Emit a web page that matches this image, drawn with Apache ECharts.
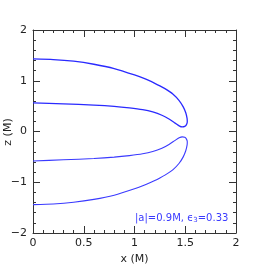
<!DOCTYPE html>
<html><head><meta charset="utf-8">
<script src="https://cdn.jsdelivr.net/npm/echarts@6/dist/echarts.min.js"></script>
<style>html,body{margin:0;padding:0;background:#fff}#c{width:266px;height:266px}</style>
</head><body><div id="c"></div>
<script>
// upper curve: outer edge -> tip -> inner edge
const upperX = [0, 0.2, 0.4, 0.6, 0.8, 1.0, 1.1, 1.2, 1.25, 1.3, 1.38, 1.44, 1.48, 1.505, 1.518, 1.52, 1.512, 1.495, 1.47, 1.44, 1.40, 1.34, 1.27, 1.18, 1.08, 0.95, 0.8, 0.6, 0.3, 0];
const upperZ = [1.43, 1.418, 1.385, 1.325, 1.241, 1.115, 1.04, 0.95, 0.90, 0.845, 0.735, 0.61, 0.485, 0.37, 0.26, 0.19, 0.135, 0.10, 0.09, 0.112, 0.165, 0.245, 0.32, 0.385, 0.43, 0.465, 0.495, 0.52, 0.545, 0.565];
// lower curve: inner edge -> tip -> outer edge
const lowerX = [0, 0.3, 0.6, 0.8, 0.95, 1.08, 1.18, 1.27, 1.34, 1.40, 1.44, 1.47, 1.495, 1.512, 1.52, 1.518, 1.505, 1.48, 1.44, 1.38, 1.3, 1.25, 1.2, 1.1, 1.0, 0.8, 0.6, 0.4, 0.2, 0];
const lowerZ = [-0.58, -0.558, -0.532, -0.505, -0.475, -0.44, -0.395, -0.33, -0.255, -0.175, -0.125, -0.105, -0.115, -0.15, -0.2, -0.27, -0.38, -0.5, -0.625, -0.75, -0.86, -0.915, -0.965, -1.055, -1.13, -1.255, -1.338, -1.395, -1.428, -1.44];
const xTicks = [0, 0.5, 1, 1.5, 2];
const zTicks = [-2, -1, 0, 1, 2];
const xName = 'x (M)';
const zName = 'z (M)';
const label = '|a|=0.9M, ϵ';
const labelSub = '3';
const labelTail = '=0.33';

const pair = (xs, zs) => xs.map((v, i) => [v, zs[i]]);
const font = 'DejaVu Sans';
const axisCommon = {
  type: 'value',
  axisLine: {show: true, onZero: false, lineStyle: {color: '#333', width: 1}},
  axisTick: {show: true, inside: true, length: 7, lineStyle: {color: '#333'}},
  minorTick: {show: true, splitNumber: 5, length: 3, lineStyle: {color: '#333'}},
  splitLine: {show: false},
};
const chart = echarts.init(document.getElementById('c'));
chart.setOption({
  animation: false,
  grid: {left: 33, right: 30, top: 30, bottom: 33, outerBoundsMode: 'none', containLabel: false},
  xAxis: [
    Object.assign({}, axisCommon, {min: 0, max: 2, interval: 0.5, position: 'bottom',
      name: xName, nameLocation: 'middle', nameGap: 19,
      nameTextStyle: {fontFamily: font, fontSize: 11, color: '#222'},
      axisLabel: {margin: 5, fontFamily: font, fontSize: 11, color: '#222',
        formatter: v => xTicks.includes(v) ? String(v) : ''}}),
    Object.assign({}, axisCommon, {min: 0, max: 2, interval: 0.5, position: 'top', axisLabel: {show: false}})
  ],
  yAxis: [
    Object.assign({}, axisCommon, {min: -2, max: 2, interval: 1, position: 'left',
      axisLabel: {margin: 6, fontFamily: font, fontSize: 11, color: '#222',
        formatter: v => zTicks.includes(v) ? (v < 0 ? '\u2212' + Math.abs(v) : String(v)) : ''}}),
    Object.assign({}, axisCommon, {min: -2, max: 2, interval: 1, position: 'right', axisLabel: {show: false}})
  ],
  series: [
    {type: 'line', data: pair(upperX, upperZ), showSymbol: false, smooth: 0.2,
      lineStyle: {color: '#2a2aff', width: 1.3}},
    {type: 'line', data: pair(lowerX, lowerZ), showSymbol: false, smooth: 0.2,
      lineStyle: {color: '#3a3aff', width: 1.1}}
  ],
  graphic: [{
    type: 'text', x: 8, y: 132, rotation: Math.PI / 2,
    style: {text: zName, fontFamily: font, fontSize: 11, fill: '#222', align: 'center', verticalAlign: 'middle'}
  }, {
    type: 'text', left: 135, top: 213,
    style: {
      text: '{m|' + label + '}{s|' + labelSub + '}{m|' + labelTail + '}',
      rich: {
        m: {fontFamily: font, fontSize: 10, fill: '#3a3aff'},
        s: {fontFamily: font, fontSize: 7, fill: '#3a3aff', padding: [5, 0, 0, 0]}
      }
    }
  }]
});
</script></body></html>
